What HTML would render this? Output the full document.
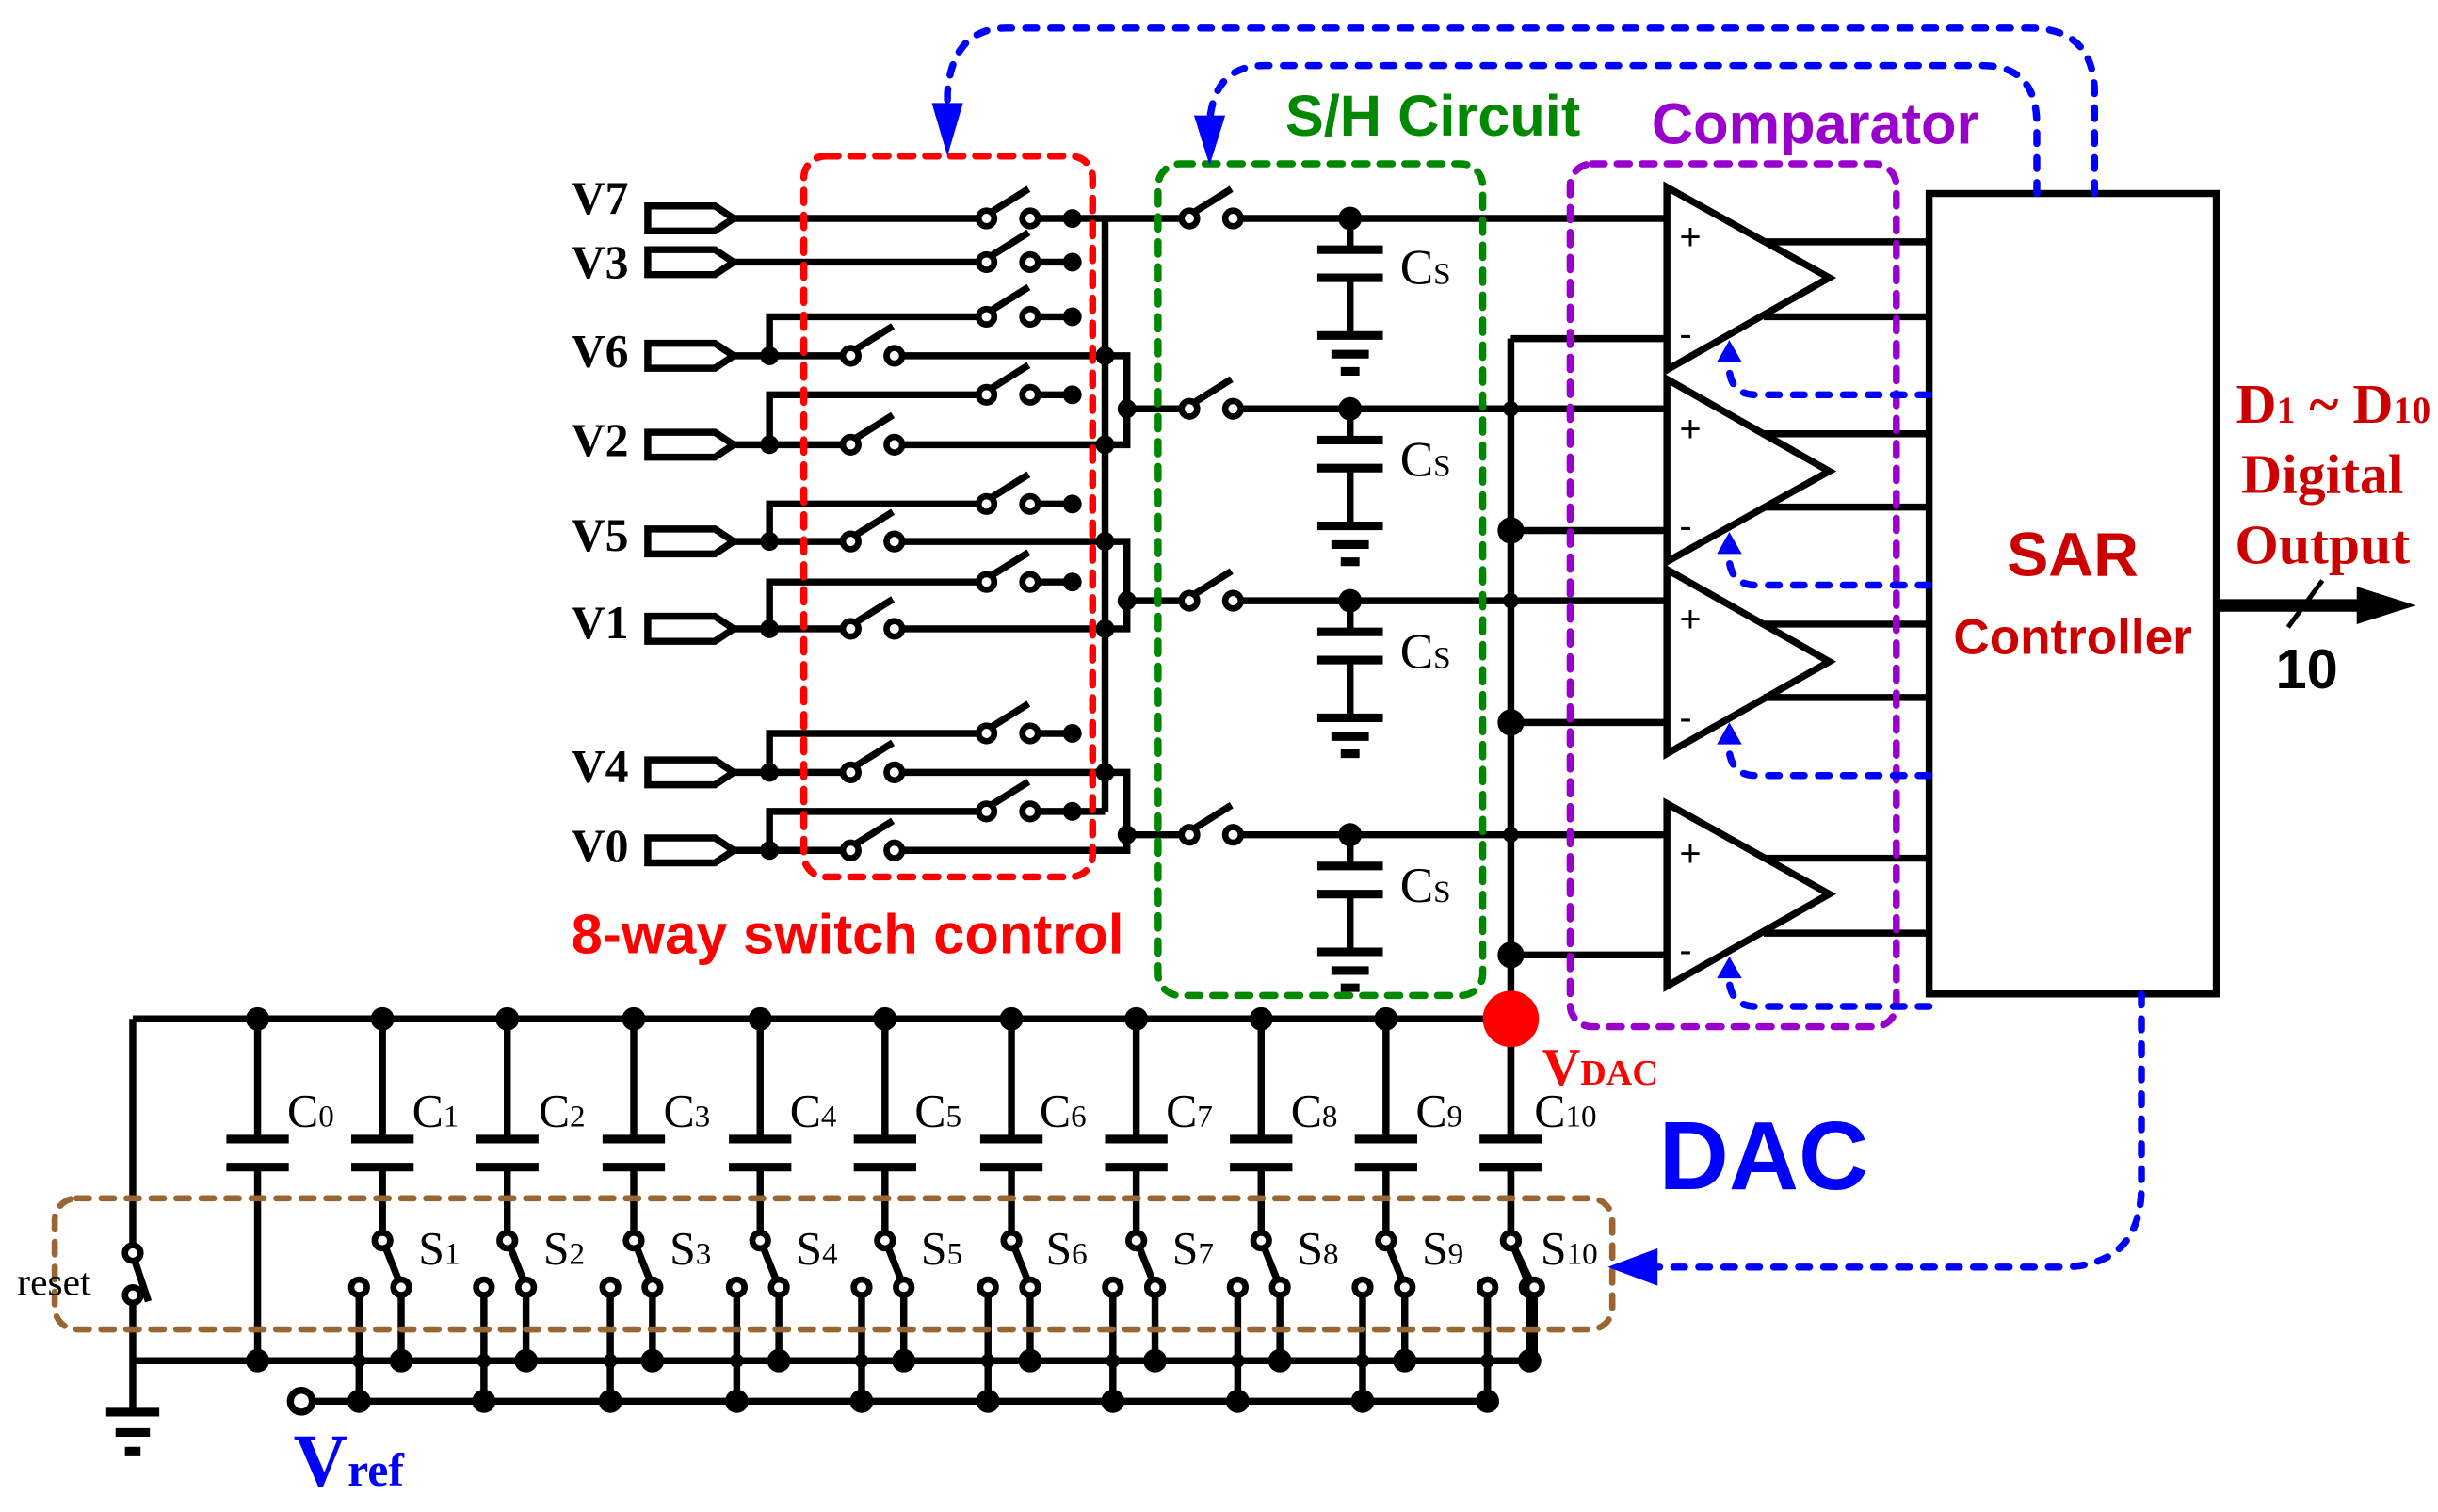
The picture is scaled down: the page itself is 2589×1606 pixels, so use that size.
<!DOCTYPE html>
<html><head><meta charset="utf-8"><style>html,body{margin:0;padding:0;background:#fff}svg{display:block}</style></head>
<body>
<svg width="2589" height="1606" viewBox="0 0 1562 969" xmlns="http://www.w3.org/2000/svg">
<defs>
<g id="sw"><circle cx="0" cy="0" r="5" fill="#fff" stroke="#000" stroke-width="4"/><circle cx="28" cy="0" r="5" fill="#fff" stroke="#000" stroke-width="4"/><line x1="3" y1="-4" x2="27" y2="-19" stroke="#000" stroke-width="4.5"/></g>
<g id="pin"><path d="M415,-8 H458 L470,0 L458,8 H415 Z" fill="#fff" stroke="#000" stroke-width="4.5"/></g>
<g id="cs" stroke="#000" stroke-width="4.5"><line x1="0" y1="0" x2="0" y2="20"/><line x1="-21" y1="20" x2="21" y2="20" stroke-width="5.5"/><line x1="-21" y1="38" x2="21" y2="38" stroke-width="5.5"/><line x1="0" y1="38" x2="0" y2="75"/><line x1="-21" y1="75" x2="21" y2="75" stroke-width="5.5"/><line x1="-12" y1="87" x2="12" y2="87" stroke-width="5.5"/><line x1="-6" y1="98" x2="6" y2="98" stroke-width="5.5"/><circle cx="0" cy="0" r="7.5" fill="#000" stroke="none"/></g>
</defs>
<g fill="none" stroke="#000" stroke-width="4.5">
<path d="M470,140 H627 M665,140 H757 M795,140 H1068"/>
<path d="M470,168 H627 M665,168 H687"/>
<path d="M708,140 V520"/>
<path d="M470,228 H540 M578,228 H708 M493,228 V203 H627 M665,203 H687"/>
<path d="M470,285 H540 M578,285 H708 M493,285 V253 H627 M665,253 H687"/>
<path d="M708,228 H722 V285 H708 M722,262 H757 M795,262 H1068"/>
<path d="M470,347 H540 M578,347 H708 M493,347 V323 H627 M665,323 H687"/>
<path d="M470,403 H540 M578,403 H708 M493,403 V373 H627 M665,373 H687"/>
<path d="M708,347 H722 V403 H708 M722,385 H757 M795,385 H1068"/>
<path d="M470,495 H540 M578,495 H708 M493,495 V470 H627 M665,470 H687"/>
<path d="M470,545 H540 M578,545 H722 V495 H708 M493,545 V520 H627 M665,520 H708"/>
<path d="M722,535 H757 M795,535 H1068"/>
<path d="M968,217 V653 M968,217 H1068 M968,340 H1068 M968,463 H1068 M968,612 H1068"/>
<path d="M1068,120 L1172,178 L1068,237 Z M1068,243 L1172,302 L1068,360 Z M1068,365 L1172,424 L1068,483 Z M1068,515 L1172,573 L1068,632 Z"/>
<path d="M1130,155 H1236 M1130,203 H1236 M1130,278 H1236 M1130,325 H1236 M1130,400 H1236 M1130,447 H1236 M1130,550 H1236 M1130,598 H1236"/>
<rect x="1236" y="124" width="184" height="513"/>
<path d="M85,653 H968 M85,653 V800 M85,832 V905 M85,872 H983 M200,898 H953"/>
<path d="M165,653 V730 M165,748 V872"/>
</g>
<g stroke="#000" stroke-width="5">
<line x1="68" y1="905" x2="102" y2="905" stroke-width="5.5"/><line x1="74" y1="918" x2="96" y2="918" stroke-width="5.5"/><line x1="80" y1="930" x2="90" y2="930" stroke-width="5.5"/>
<line x1="85" y1="804" x2="95" y2="834" stroke-width="4.5"/>
</g>
<circle cx="85" cy="803" r="5" fill="#fff" stroke="#000" stroke-width="4"/>
<circle cx="85" cy="830" r="5" fill="#fff" stroke="#000" stroke-width="4"/>
<circle cx="193" cy="898" r="7" fill="#fff" stroke="#000" stroke-width="4.5"/>
<g stroke="#000" stroke-width="5.5">
<line x1="145" y1="730" x2="185" y2="730"/><line x1="145" y1="748" x2="185" y2="748"/>
</g>
<g id="dcap">
<g stroke="#000" stroke-width="4.5" fill="none"><path d="M245,653 V730 M245,748 V790 M230,825 V898 M257,825 V872 M246,797 L256,822"/></g>
<g stroke="#000" stroke-width="5.5"><line x1="225" y1="730" x2="265" y2="730"/><line x1="225" y1="748" x2="265" y2="748"/></g>
<circle cx="245" cy="795" r="5" fill="#fff" stroke="#000" stroke-width="4"/>
<circle cx="230" cy="825" r="5" fill="#fff" stroke="#000" stroke-width="4"/>
<circle cx="257" cy="825" r="5" fill="#fff" stroke="#000" stroke-width="4"/>
<circle cx="245" cy="653" r="7.5"/><circle cx="257" cy="872" r="7.5"/><circle cx="230" cy="898" r="7.5"/><circle cx="230" cy="872" r="4.5"/>
</g>
<use href="#dcap" x="80"/><use href="#dcap" x="161"/><use href="#dcap" x="242"/><use href="#dcap" x="322"/><use href="#dcap" x="403"/><use href="#dcap" x="483"/><use href="#dcap" x="563"/><use href="#dcap" x="643"/><use href="#dcap" x="723"/>
<circle cx="165" cy="653" r="7.5"/><circle cx="165" cy="872" r="7.5"/>
<use href="#pin" y="140"/><use href="#pin" y="168"/><use href="#pin" y="228"/><use href="#pin" y="285"/><use href="#pin" y="347"/><use href="#pin" y="403"/><use href="#pin" y="495"/><use href="#pin" y="545"/>
<use href="#sw" x="632" y="140"/><use href="#sw" x="632" y="168"/><use href="#sw" x="632" y="203"/><use href="#sw" x="632" y="253"/><use href="#sw" x="632" y="323"/><use href="#sw" x="632" y="373"/><use href="#sw" x="632" y="470"/><use href="#sw" x="632" y="520"/>
<use href="#sw" x="545" y="228"/><use href="#sw" x="545" y="285"/><use href="#sw" x="545" y="347"/><use href="#sw" x="545" y="403"/><use href="#sw" x="545" y="495"/><use href="#sw" x="545" y="545"/>
<use href="#sw" x="762" y="140"/><use href="#sw" x="762" y="262"/><use href="#sw" x="762" y="385"/><use href="#sw" x="762" y="535"/>
<g fill="#000">
<circle cx="687" cy="140" r="6"/><circle cx="687" cy="168" r="6"/><circle cx="687" cy="203" r="6"/><circle cx="687" cy="253" r="6"/><circle cx="687" cy="323" r="6"/><circle cx="687" cy="373" r="6"/><circle cx="687" cy="470" r="6"/><circle cx="687" cy="520" r="6"/>
<circle cx="493" cy="228" r="6"/><circle cx="493" cy="285" r="6"/><circle cx="493" cy="347" r="6"/><circle cx="493" cy="403" r="6"/><circle cx="493" cy="495" r="6"/><circle cx="493" cy="545" r="6"/>
<circle cx="708" cy="228" r="6"/><circle cx="708" cy="285" r="6"/><circle cx="708" cy="347" r="6"/><circle cx="708" cy="403" r="6"/><circle cx="708" cy="495" r="6"/>
<circle cx="722" cy="262" r="6"/><circle cx="722" cy="385" r="6"/><circle cx="722" cy="535" r="6"/>
<circle cx="968" cy="262" r="5"/><circle cx="968" cy="385" r="5"/><circle cx="968" cy="535" r="5"/>
<circle cx="968" cy="340" r="8.5"/><circle cx="968" cy="463" r="8.5"/><circle cx="968" cy="612" r="8.5"/>
</g>
<use href="#cs" x="865" y="140"/><use href="#cs" x="865" y="262"/><use href="#cs" x="865" y="385"/><use href="#cs" x="865" y="535"/>
<g stroke="#000" stroke-width="5.5"><line x1="948" y1="730" x2="988" y2="730"/><line x1="948" y1="748" x2="988" y2="748"/></g>
<g stroke="#000" stroke-width="4.5" fill="none"><path d="M968,653 V730 M968,748 V790 M953,825 V898 M983,825 V872 H979 M969,797 L981,822"/></g>
<circle cx="968" cy="795" r="5" fill="#fff" stroke="#000" stroke-width="4"/>
<circle cx="953" cy="825" r="5" fill="#fff" stroke="#000" stroke-width="4"/>
<circle cx="983" cy="825" r="5" fill="#fff" stroke="#000" stroke-width="4"/>
<circle cx="953" cy="872" r="4.5"/>
<circle cx="968" cy="653" r="18" fill="#f00"/>
<g font-family="Liberation Sans, sans-serif" font-size="24">
<text x="1076" y="160">+</text><text x="1076" y="283">+</text><text x="1076" y="405">+</text><text x="1076" y="555">+</text>
<text x="1076" y="222">-</text><text x="1076" y="345">-</text><text x="1076" y="468">-</text><text x="1076" y="617">-</text>
</g>
<g fill="none" stroke-width="4.5" stroke-dasharray="8,8" stroke-linecap="round">
<rect x="515" y="100" width="185" height="462" rx="14" stroke="#f00"/>
<rect x="742" y="105" width="208" height="533" rx="14" stroke="#080"/>
<rect x="1006" y="105" width="209" height="553" rx="14" stroke="#90c"/>
<rect x="35" y="768" width="998" height="84" rx="14" stroke="#963" stroke-width="4"/>
</g>
<g fill="none" stroke="#00f" stroke-width="4.5" stroke-dasharray="7,9" stroke-linecap="round">
<path d="M1342,124 V60 Q1342,18 1300,18 H645 Q610,18 607,60 V72"/>
<path d="M1305,124 V80 Q1305,42 1270,42 H810 Q778,42 775,78 V84"/>
<path d="M1372,637 V760 Q1372,812 1320,812 H1060"/>
<path d="M1236,253 H1125 Q1110,253 1108,238 M1236,375 H1125 Q1110,375 1108,360 M1236,497 H1125 Q1110,497 1108,482 M1236,645 H1125 Q1110,645 1108,630"/>
</g>
<g fill="#00f">
<path d="M597,66 L617,66 L607,100 Z"/><path d="M765,74 L785,74 L775,106 Z"/>
<path d="M1030,812 L1062,800 L1062,824 Z"/>
<path d="M1100,232 L1116,232 L1108,218 Z"/><path d="M1100,355 L1116,355 L1108,341 Z"/><path d="M1100,477 L1116,477 L1108,463 Z"/><path d="M1100,627 L1116,627 L1108,613 Z"/>
</g>
<line x1="1420" y1="388" x2="1515" y2="388" stroke="#000" stroke-width="8"/>
<path d="M1510,376 L1548,388 L1510,400 Z" fill="#000"/>
<line x1="1466" y1="402" x2="1488" y2="372" stroke="#000" stroke-width="3"/>
<g font-family="Liberation Serif, serif" font-weight="bold" font-size="30">
<text x="366" y="137">V7</text><text x="366" y="178">V3</text><text x="366" y="235">V6</text><text x="366" y="292">V2</text><text x="366" y="353">V5</text><text x="366" y="409">V1</text><text x="366" y="501">V4</text><text x="366" y="552">V0</text>
</g>
<g font-family="Liberation Serif, serif" font-size="32" fill="#000">
<text x="897" y="182">C<tspan font-size="20">S</tspan></text>
<text x="897" y="305">C<tspan font-size="20">S</tspan></text>
<text x="897" y="428">C<tspan font-size="20">S</tspan></text>
<text x="897" y="578">C<tspan font-size="20">S</tspan></text>
<g font-size="30">
<text x="184" y="722">C<tspan font-size="20">0</tspan></text><text x="264" y="722">C<tspan font-size="20">1</tspan></text><text x="345" y="722">C<tspan font-size="20">2</tspan></text><text x="425" y="722">C<tspan font-size="20">3</tspan></text><text x="506" y="722">C<tspan font-size="20">4</tspan></text><text x="586" y="722">C<tspan font-size="20">5</tspan></text><text x="666" y="722">C<tspan font-size="20">6</tspan></text><text x="747" y="722">C<tspan font-size="20">7</tspan></text><text x="827" y="722">C<tspan font-size="20">8</tspan></text><text x="907" y="722">C<tspan font-size="20">9</tspan></text><text x="983" y="722">C<tspan font-size="20">10</tspan></text>
<text x="268" y="810">S<tspan font-size="20">1</tspan></text><text x="348" y="810">S<tspan font-size="20">2</tspan></text><text x="429" y="810">S<tspan font-size="20">3</tspan></text><text x="510" y="810">S<tspan font-size="20">4</tspan></text><text x="590" y="810">S<tspan font-size="20">5</tspan></text><text x="670" y="810">S<tspan font-size="20">6</tspan></text><text x="751" y="810">S<tspan font-size="20">7</tspan></text><text x="831" y="810">S<tspan font-size="20">8</tspan></text><text x="911" y="810">S<tspan font-size="20">9</tspan></text><text x="987" y="810">S<tspan font-size="20">10</tspan></text>
</g>
<text x="11" y="830" font-size="25">reset</text>
</g>
<text x="988" y="695" font-family="Liberation Serif, serif" font-weight="bold" font-size="34" fill="#f00">V<tspan font-size="23">DAC</tspan></text>
<text x="188" y="952" font-family="Liberation Serif, serif" font-weight="bold" font-size="48" fill="#00f">V<tspan font-size="30">ref</tspan></text>
<g font-family="Liberation Sans, sans-serif" font-weight="bold">
<text x="543" y="611" font-size="36" fill="#f00" text-anchor="middle">8-way switch control</text>
<text x="918" y="87" font-size="37" fill="#080" text-anchor="middle">S/H Circuit</text>
<text x="1163" y="92" font-size="37" fill="#90c" text-anchor="middle">Comparator</text>
<text x="1130" y="762" font-size="62" fill="#00f" text-anchor="middle">DAC</text>
<text x="1328" y="369" font-size="40" fill="#c00" text-anchor="middle">SAR</text>
<text x="1328" y="419" font-size="32" fill="#c00" text-anchor="middle">Controller</text>
<text x="1478" y="441" font-size="36" fill="#000" text-anchor="middle">10</text>
</g>
<g font-family="Liberation Serif, serif" font-weight="bold" font-size="36" fill="#c00" text-anchor="middle">
<text x="1495" y="271">D<tspan font-size="24">1</tspan> ~ D<tspan font-size="24">10</tspan></text>
<text x="1488" y="316">Digital</text>
<text x="1488" y="361">Output</text>
</g>
</svg>
</body></html>
